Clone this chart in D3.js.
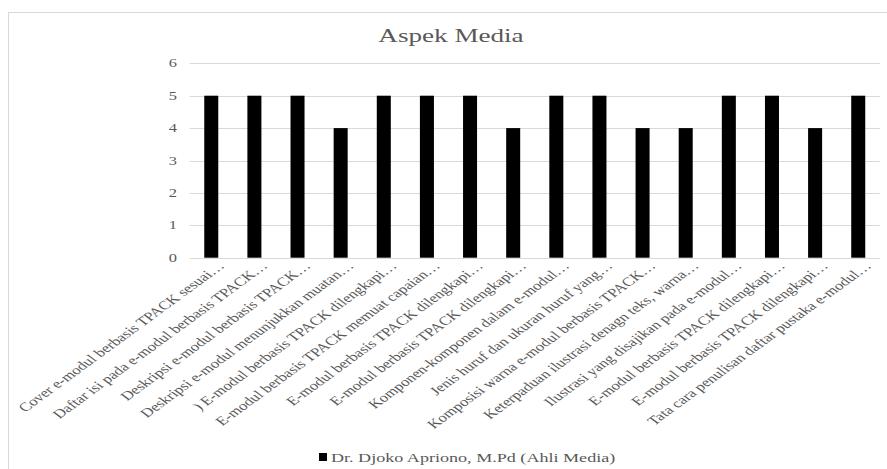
<!DOCTYPE html>
<html>
<head>
<meta charset="utf-8">
<script src="https://cdn.jsdelivr.net/npm/d3@7"></script>
<style>
  body { margin: 0; background: #fff; }
</style>
</head>
<body>
<svg id="chart" width="887" height="469"></svg>
<script>
const categories = [
  'Cover e-modul berbasis TPACK sesuai…',
  'Daftar isi pada e-modul berbasis TPACK…',
  'Deskripsi e-modul berbasis TPACK…',
  'Deskripsi e-modul menunjukkan muatan…',
  ') E-modul berbasis TPACK dilengkapi…',
  'E-modul berbasis TPACK memuat capaian…',
  'E-modul berbasis TPACK dilengkapi…',
  'E-modul berbasis TPACK dilengkapi…',
  'Komponen-komponen dalam e-modul…',
  'Jenis huruf dan ukuran huruf yang…',
  'Komposisi warna e-modul berbasis TPACK…',
  'Keterpaduan ilustrasi denagn teks, warna…',
  'Ilustrasi yang disajikan pada e-modul…',
  'E-modul berbasis TPACK dilengkapi…',
  'E-modul berbasis TPACK dilengkapi…',
  'Tata cara penulisan daftar pustaka e-modul…'
];
const values = [5, 5, 5, 4, 5, 5, 5, 4, 5, 5, 4, 4, 5, 5, 4, 5];
const yTicks = [0, 1, 2, 3, 4, 5, 6];
const seriesName = 'Dr. Djoko Apriono, M.Pd (Ahli Media)';
const title = 'Aspek Media';

const font = '"Liberation Serif", "Times New Roman", serif';
const svg = d3.select('#chart');
// the reference picture is stretched horizontally, so text is too
const sx = 1.37;

svg.append('rect')
  .attr('x', 8.5).attr('y', 12.5)
  .attr('width', 900).attr('height', 470)
  .attr('fill', '#fff')
  .attr('stroke', '#d9d9d9');

const plotLeft = 189.7, plotRight = 879.8, plotTop = 63.3, plotBottom = 257.7;

const x = d3.scaleBand()
  .domain(d3.range(categories.length))
  .range([plotLeft, plotRight])
  .paddingInner(0.675)
  .paddingOuter(0.3375);

const y = d3.scaleLinear()
  .domain([0, 6])
  .range([plotBottom, plotTop]);

// gridlines
svg.append('g')
  .selectAll('line')
  .data(yTicks)
  .join('line')
  .attr('x1', plotLeft).attr('x2', plotRight)
  .attr('y1', d => Math.round(y(d)) + 0.5)
  .attr('y2', d => Math.round(y(d)) + 0.5)
  .attr('stroke', '#d9d9d9');

// y labels
svg.append('g')
  .selectAll('text')
  .data(yTicks)
  .join('text')
  .attr('transform', d => `translate(177,${y(d) + 4}) scale(${sx},1)`)
  .attr('text-anchor', 'end')
  .style('font-family', font)
  .style('font-size', '12px')
  .style('fill', '#595959')
  .text(d => d);

// bars
svg.append('g')
  .selectAll('rect')
  .data(values)
  .join('rect')
  .attr('x', (d, i) => x(i))
  .attr('width', x.bandwidth())
  .attr('y', d => y(d))
  .attr('height', d => y(0) - y(d))
  .attr('fill', '#000');

// category labels
svg.append('g')
  .selectAll('text')
  .data(categories)
  .join('text')
  .attr('transform', (d, i) =>
    `translate(${x(i) + x.bandwidth() / 2 + 14},${plotBottom + 9}) scale(${sx},1) rotate(-45)`)
  .attr('text-anchor', 'end')
  .style('font-family', font)
  .style('font-size', '12.4px')
  .style('fill', '#595959')
  .text(d => d);

// title
svg.append('text')
  .attr('transform', `translate(451,42) scale(${sx},1)`)
  .attr('text-anchor', 'middle')
  .style('font-family', font)
  .style('font-size', '19.8px')
  .style('fill', '#595959')
  .text(title);

// legend
svg.append('rect')
  .attr('x', 319).attr('y', 453)
  .attr('width', 8).attr('height', 8)
  .attr('fill', '#000');
svg.append('text')
  .attr('transform', `translate(331,462) scale(${sx},1)`)
  .style('font-family', font)
  .style('font-size', '13.2px')
  .style('fill', '#595959')
  .text(seriesName);
</script>
</body>
</html>
